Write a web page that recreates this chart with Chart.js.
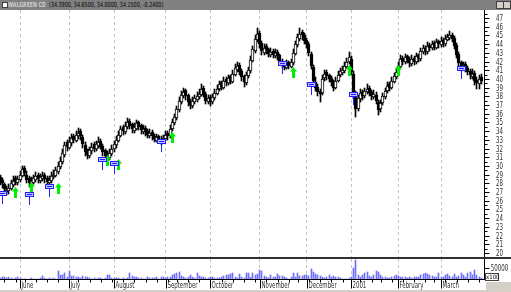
<!DOCTYPE html>
<html><head><meta charset="utf-8">
<script src="https://cdn.jsdelivr.net/npm/chart.js@4.4.1/dist/chart.umd.min.js"></script>
<style>
html,body{margin:0;padding:0;background:#fff;width:511px;height:292px;overflow:hidden;position:relative;font-family:'Liberation Sans Narrow','DejaVu Sans Condensed',sans-serif}
#title{position:absolute;left:0;top:0;width:511px;height:10px;background:#808080;}
#icon{position:absolute;left:2px;top:2px;width:4px;height:4px;background:#fff;border:1px solid #404040;box-sizing:content-box}
#tname{position:absolute;left:8px;top:0px;font-size:7px;line-height:10px;color:#cfcfcf;font-weight:bold;white-space:nowrap;transform-origin:0 50%}
#tvals{position:absolute;left:49px;top:0px;font-size:7px;line-height:10px;color:#000;white-space:nowrap;transform-origin:0 50%}
.btn{position:absolute;top:1px;width:6px;height:6px;background:#d4d0c8;border:1px solid #404040}
#price{position:absolute;left:0;top:10px}
#sep{position:absolute;left:0;top:257px;width:511px;height:2px;background:#303030}
#vol{position:absolute;left:0;top:259px}
#x100{position:absolute;left:485px;top:273px;width:12px;height:6px;border:1px solid #404040;font-size:6px;line-height:6px;text-align:center;color:#000;background:#fff}
#gray1{position:absolute;left:486px;top:282px;width:25px;height:10px;background:#d4d0c8}
#gray2{position:absolute;left:0;top:290px;width:511px;height:2px;background:#d4d0c8}
</style></head><body>
<div id="title"><div id="icon"></div><div id="tname">WALGREEN CO</div><div id="tvals">(34.3900, 34.6500, 34.0000, 34.1500, -0.2400)</div>
<div class="btn" style="left:496px"></div><div class="btn" style="left:503px"></div></div>
<canvas id="price" width="511" height="247"></canvas>
<div id="sep"></div>
<canvas id="vol" width="511" height="33"></canvas>
<div id="gray2"></div><div id="gray1"></div>
<div id="x100">x100</div>
<script>
// ---------- DATA ----------
const startDate = '2000-05-18';
const holidays = ['2000-05-29','2000-07-04','2000-09-04','2000-11-23','2000-12-25','2001-01-01','2001-01-15','2001-02-19'];
const monthLabels = ['June','July','August','September','October','November','December','2001','February','March'];
const priceTickLabels = [20,21,22,23,24,25,26,27,28,29,30,31,32,33,34,35,36,37,38,39,40,41,42,43,44,45,46,47];
const volumeTickLabels = [50000];

const opens = [28.7,28.4,27.9,27.0,27.1,27.4,27.8,28.6,28.0,28.4,28.9,29.8,29.0,28.6,27.8,28.1,28.4,29.0,28.3,28.5,
29.0,28.6,28.0,28.3,28.7,28.9,29.3,29.9,30.4,31.3,32.7,32.1,32.6,33.5,32.9,33.4,34.0,33.3,32.4,31.9,
31.1,31.7,32.5,31.9,32.3,32.9,32.3,31.8,31.4,30.9,31.4,31.9,32.4,32.9,33.5,34.5,33.9,34.5,35.2,34.8,
34.0,34.3,35.0,34.7,33.9,34.4,34.0,33.4,33.9,33.5,32.9,33.4,33.1,32.8,33.1,33.8,33.5,34.2,34.9,35.5,
36.4,37.3,38.0,38.7,38.1,37.5,36.9,37.3,37.6,37.9,38.2,39.0,38.3,37.3,37.9,37.3,37.8,38.3,38.8,39.6,
39.0,40.0,39.5,40.3,39.7,40.5,41.0,41.6,40.9,40.3,39.5,40.3,40.9,42.1,43.2,44.5,45.3,44.1,43.0,43.8,
43.4,42.7,43.2,42.6,43.1,42.7,42.1,41.8,41.3,41.9,41.4,41.8,42.9,43.9,44.6,45.4,45.1,44.5,44.0,42.9,
41.4,39.6,39.1,38.6,38.4,40.1,40.8,40.4,40.1,39.7,39.0,39.8,40.4,40.7,40.9,41.4,41.9,42.3,40.6,38.2,
36.6,37.7,38.5,38.0,38.5,39.0,38.5,37.9,38.2,37.4,36.5,37.2,37.9,38.6,39.4,39.0,39.7,40.2,40.7,41.4,
42.4,41.9,42.6,42.3,41.7,42.4,41.9,42.7,42.3,43.1,43.6,43.1,43.9,43.5,44.1,43.6,44.3,43.9,44.5,44.0,
44.5,44.7,45.1,44.7,43.9,42.9,41.9,41.2,41.7,41.3,40.9,40.2,40.7,39.9,39.4,40.2];
const highs = [29.0,28.6,28.1,27.7,27.9,28.4,28.8,28.9,28.9,29.4,30.0,30.0,29.4,28.8,28.7,29.0,29.3,29.2,29.1,29.3,
29.2,28.9,28.8,29.3,29.5,29.9,30.4,31.0,31.9,32.8,33.0,33.3,33.7,33.7,34.0,34.4,34.2,33.6,32.7,32.0,
32.2,32.6,32.7,32.9,33.3,33.1,32.5,32.0,31.7,31.9,32.4,32.9,33.4,34.0,34.6,34.7,35.0,35.5,35.4,34.9,
34.9,35.3,35.2,34.8,34.7,34.6,34.2,34.2,34.1,33.7,33.7,33.6,33.4,33.6,34.0,34.0,34.7,35.4,36.0,36.9,
37.9,38.6,39.0,38.9,38.3,37.7,37.9,38.2,38.5,38.8,39.4,39.2,38.5,38.2,38.1,38.3,38.8,39.3,39.8,39.8,
40.2,40.2,40.5,40.5,41.0,41.7,42.0,41.8,41.1,40.5,40.8,41.4,42.6,43.8,45.0,45.8,45.5,44.3,44.0,44.0,
43.6,43.5,43.4,43.4,43.3,42.9,42.3,42.0,42.2,42.1,42.3,43.4,44.4,45.2,45.8,45.6,45.3,44.7,44.2,43.1,
41.6,40.2,39.4,38.9,40.4,41.0,41.0,40.6,40.3,39.9,40.2,40.9,41.3,41.5,41.9,42.4,43.1,42.6,40.9,38.6,
38.2,38.8,38.7,39.0,39.4,39.2,38.7,38.7,38.5,37.6,37.6,38.4,39.0,39.6,39.6,40.2,40.7,41.2,41.9,42.7,
42.6,42.9,42.8,42.5,42.7,42.6,43.0,42.9,43.6,43.9,43.8,44.2,44.1,44.4,44.3,44.6,44.5,44.8,44.7,45.0,
45.2,45.5,45.3,44.9,44.1,43.1,42.1,42.0,41.9,41.5,41.1,41.1,40.9,40.2,40.4,40.6];
const lows = [27.8,27.5,27.0,26.7,26.8,27.2,27.6,27.8,27.8,28.2,28.7,28.9,28.1,27.6,27.6,27.9,28.2,28.1,28.1,28.3,
28.1,27.8,27.8,28.1,28.5,28.7,29.1,29.7,30.2,31.0,31.7,31.9,32.3,32.6,32.7,33.1,33.0,32.1,31.2,30.8,
30.9,31.4,31.6,31.7,32.1,31.9,31.2,30.8,30.5,30.7,31.2,31.6,32.1,32.7,33.3,33.6,33.7,34.2,34.2,33.8,
33.8,34.1,34.1,33.7,33.7,33.5,33.2,33.2,33.0,32.7,32.7,32.6,32.4,32.6,32.9,33.0,33.2,34.0,34.7,35.3,
36.2,37.1,37.8,37.6,36.9,36.5,36.7,37.1,37.4,37.7,38.0,37.9,37.1,37.1,36.9,37.1,37.6,38.1,38.6,38.7,
38.8,39.2,39.3,39.4,39.5,40.3,40.8,40.4,39.8,39.1,39.3,40.1,40.7,41.9,43.0,44.2,43.6,42.7,42.8,42.9,
42.5,42.5,42.4,42.4,42.2,41.6,41.3,41.0,41.1,41.1,41.2,41.6,42.7,43.7,44.4,44.5,44.0,43.6,42.6,41.1,
39.4,38.6,38.0,37.3,38.2,39.8,39.9,39.6,39.2,38.6,38.8,39.6,40.2,40.5,40.7,41.2,41.7,40.4,37.7,35.6,
36.3,37.4,37.6,37.8,38.3,38.0,37.6,37.7,37.1,35.9,36.2,37.0,37.7,38.4,38.6,38.8,39.5,40.0,40.5,41.2,
41.6,41.7,41.8,41.4,41.5,41.6,41.7,42.0,42.1,42.9,42.8,42.9,43.2,43.3,43.3,43.4,43.6,43.7,43.7,43.8,
44.3,44.5,44.2,43.4,42.4,41.4,40.9,41.0,40.8,40.4,40.0,40.0,39.3,38.9,38.8,39.4];
const closes = [28.2,28.0,27.4,27.2,27.5,28.0,28.3,28.2,28.5,29.0,29.6,29.2,28.4,28.0,28.3,28.6,28.8,28.5,28.7,28.8,
28.5,28.2,28.4,28.9,29.0,29.5,30.0,30.6,31.5,32.4,32.2,32.8,33.2,33.0,33.6,33.8,33.4,32.5,31.6,31.3,
31.8,32.2,32.0,32.5,32.8,32.2,31.6,31.2,31.0,31.5,32.0,32.5,33.0,33.6,34.2,34.0,34.6,35.0,34.6,34.2,
34.5,34.9,34.5,34.1,34.3,33.9,33.6,33.8,33.4,33.1,33.3,33.0,32.9,33.2,33.6,33.4,34.3,35.0,35.6,36.5,
37.5,38.2,38.5,38.0,37.3,37.0,37.5,37.8,38.0,38.3,38.9,38.2,37.5,37.8,37.4,37.9,38.4,38.9,39.4,39.1,
39.8,39.6,40.1,39.8,40.6,41.2,41.5,40.8,40.2,39.6,40.4,41.0,42.2,43.4,44.6,45.2,44.0,43.2,43.6,43.3,
42.9,43.1,42.8,43.0,42.6,42.0,41.7,41.4,41.8,41.5,41.9,43.0,44.0,44.8,45.2,45.0,44.4,44.0,43.0,41.5,
39.8,39.0,38.5,38.3,40.0,40.6,40.3,40.0,39.6,39.0,39.8,40.5,40.9,41.0,41.5,42.0,42.5,40.8,38.0,36.5,
37.8,38.4,38.0,38.6,38.9,38.4,38.0,38.3,37.5,36.4,37.2,38.0,38.6,39.2,39.0,39.8,40.3,40.8,41.5,42.3,
42.0,42.5,42.2,41.8,42.3,42.0,42.6,42.4,43.2,43.5,43.2,43.8,43.6,44.0,43.7,44.2,44.0,44.4,44.1,44.6,
44.8,45.0,44.6,43.8,42.8,41.8,41.3,41.6,41.2,40.8,40.4,40.6,39.8,39.5,40.0,39.8];
const volumes = [8000,14000,11000,7000,11000,8000,6000,9000,14000,7000,5000,4000,6000,3000,8000,5000,4000,6000,9000,17000,
8000,6000,9000,5000,7000,6000,39000,21000,21000,28000,14000,39000,17000,17000,14000,11000,8000,17000,11000,11000,
8000,6000,9000,5000,7000,10000,6000,8000,21000,21000,10000,8000,7000,9000,6000,8000,6000,7000,31000,17000,
14000,11000,10000,7000,5000,6000,11000,8000,7000,9000,11000,6000,11000,11000,8000,11000,14000,21000,25000,28000,
35000,17000,11000,10000,14000,21000,14000,9000,31000,17000,11000,14000,10000,8000,14000,11000,8000,10000,8000,11000,
17000,21000,21000,25000,28000,14000,10000,25000,14000,10000,28000,31000,14000,31000,21000,25000,42000,39000,17000,11000,
8000,21000,14000,11000,25000,17000,17000,11000,8000,6000,14000,31000,11000,28000,17000,17000,21000,21000,17000,45000,
35000,25000,21000,17000,14000,10000,14000,21000,11000,17000,14000,14000,7000,5000,4000,4000,7000,14000,49000,83000,
21000,14000,21000,28000,35000,17000,14000,21000,39000,35000,21000,14000,11000,8000,7000,11000,17000,21000,17000,14000,
11000,11000,8000,11000,7000,11000,11000,11000,21000,25000,28000,25000,21000,17000,14000,14000,31000,14000,11000,21000,
25000,17000,11000,25000,14000,17000,28000,21000,14000,31000,35000,21000,42000,21000,14000,10000];
// expert signals: bar index and price level of the marker
const buySignals = [{i:7,p:27.0},{i:14,p:27.6},{i:26,p:27.5},{i:48,p:30.7},{i:53,p:30.2},{i:77,p:33.3},{i:131,p:40.8},{i:156,p:41.0},{i:178,p:41.0}];
const flagSignals = [{i:1,p:26.4},{i:13,p:26.3},{i:22,p:27.2},{i:46,p:30.3},{i:51,p:29.9},{i:72,p:32.4},{i:126,p:41.4},{i:139,p:39.0},{i:158,p:37.8},{i:206,p:40.8}];

// ---------- derived categories ----------
function tradingDays(start, n, hol){
  const out=[]; const d=new Date(start+'T00:00:00Z');
  while(out.length<n){ const w=d.getUTCDay(); const s=d.toISOString().slice(0,10);
    if(w!==0&&w!==6&&!hol.includes(s)) out.push(s); d.setUTCDate(d.getUTCDate()+1); }
  return out;
}
const dates = tradingDays(startDate, closes.length, holidays);
const monthStarts=[], weekStarts=[];
dates.forEach((s,i)=>{ if(i===0) return;
  if(s.slice(5,7)!==dates[i-1].slice(5,7)) monthStarts.push(i);
  const w=new Date(s+'T00:00:00Z').getUTCDay(), pw=new Date(dates[i-1]+'T00:00:00Z').getUTCDay();
  if(w<pw) weekStarts.push(i);
});
const idx = closes.map((_,i)=>i);
const X_MIN = 0, X_MAX = 216.2;
const FONT = "'Liberation Sans Narrow','DejaVu Sans Condensed',sans-serif";
const LABEL_X = 499.5;

// ---------- marker images ----------
function makeFlag(){ const c=document.createElement('canvas'); c.width=9; c.height=13; const g=c.getContext('2d');
  g.fillStyle='#2020ff'; g.fillRect(0,0,9,5); g.fillStyle='#c0c0ff'; g.fillRect(1,1,7,3);
  g.fillStyle='#2020ff'; g.fillRect(2,2,5,1); g.fillRect(4,5,1,8); return c; }
function makeArrow(){ const c=document.createElement('canvas'); c.width=7; c.height=11; const g=c.getContext('2d');
  g.fillStyle='#00ee00'; g.beginPath(); g.moveTo(3.5,0); g.lineTo(7,4.5); g.lineTo(0,4.5); g.closePath(); g.fill();
  g.fillRect(2,4,3,7); return c; }
const flagImg = makeFlag(), arrowImg = makeArrow();

// ---------- crisp pixels: snap the library-computed element geometry to the pixel grid ----------
const pixelSnap = { id:'pixelSnap', beforeDatasetsDraw(chart){
  chart.data.datasets.forEach((ds,di)=>{
    const meta=chart.getDatasetMeta(di);
    meta.data.forEach(el=>{
      if(meta.type==='bar'){
        el.x = Math.floor(el.x)+0.5;
        el.y = Math.round(el.y); el.base = Math.round(el.base);
      } else { el.x = Math.floor(el.x)+0.5; el.y = Math.round(el.y)+0.5; }
    });
  });
} };

// ---------- text helper (narrow bitmap-like axis font) ----------
function narrowText(ctx, text, x, y, k, align){
  ctx.save(); ctx.translate(x, y); ctx.scale(k, 1); ctx.textAlign=align; ctx.fillText(text, 0, 0); ctx.restore();
}

// ---------- axis plugins ----------
function drawRightAxis(chart, minor){
  const ctx=chart.ctx, ys=chart.scales.y, a=chart.chartArea;
  ctx.save(); ctx.strokeStyle='#000'; ctx.lineWidth=1; ctx.beginPath();
  const xr=Math.round(a.right)+0.5;
  ctx.moveTo(xr,a.top); ctx.lineTo(xr,a.bottom);
  ys.ticks.forEach(t=>{
    const y=Math.round(ys.getPixelForValue(t.value))+0.5; ctx.moveTo(xr,y); ctx.lineTo(xr+5,y);
    if(minor){ const y2=Math.round(ys.getPixelForValue(t.value+minor))+0.5; ctx.moveTo(xr,y2); ctx.lineTo(xr+3,y2); }
  });
  ctx.stroke();
  ctx.fillStyle='#303030'; ctx.font='8px '+FONT; ctx.textBaseline='middle';
  ys.ticks.forEach(t=>{
    const s=String(t.value), w=ctx.measureText(s).width, k=Math.min(1,(s.length*3.5)/w);
    narrowText(ctx, s, LABEL_X, Math.round(ys.getPixelForValue(t.value))+0.5, k, 'center');
  });
  ctx.restore();
}
const priceAxis = { id:'priceAxis', afterDraw(chart){ drawRightAxis(chart, 0.5); } };
const volAxis = { id:'volAxis', afterDraw(chart){
  drawRightAxis(chart, 0);
  const ctx=chart.ctx, xs=chart.scales.x, a=chart.chartArea;
  ctx.save(); ctx.strokeStyle='#000'; ctx.lineWidth=1; ctx.beginPath();
  const yb=Math.round(a.bottom)-0.5;
  ctx.moveTo(0,yb); ctx.lineTo(a.right,yb);
  weekStarts.forEach(i=>{ const x=Math.round(xs.getPixelForValue(i))+0.5; ctx.moveTo(x,yb); ctx.lineTo(x,yb+3); });
  monthStarts.forEach(i=>{ const x=Math.round(xs.getPixelForValue(i))+0.5; ctx.moveTo(x,yb); ctx.lineTo(x,yb+9); });
  ctx.stroke();
  ctx.fillStyle='#303030'; ctx.font='8px '+FONT; ctx.textBaseline='alphabetic';
  const k=Math.min(1, 30/ctx.measureText('September').width);
  xs.ticks.forEach((t,j)=>{ const x=Math.round(xs.getPixelForValue(t.value))+1.5;
    narrowText(ctx, monthLabels[j], x, yb+8.5, k, 'left'); });
  ctx.restore(); } };

const common = { responsive:false, animation:false, events:[], layout:{padding:0, autoPadding:false},
  plugins:{legend:{display:false}, tooltip:{enabled:false}} };

new Chart(document.getElementById('price'), {
  type:'bar',
  data:{ datasets:[
    { type:'scatter', data: flagSignals.map(s=>({x:s.i,y:s.p})), pointStyle:flagImg, pointRadius:5, order:0 },
    { type:'scatter', data: buySignals.map(s=>({x:s.i,y:s.p})), pointStyle:arrowImg, pointRadius:5, order:0 },
    { data: idx.map(i=>({x:i, y:[Math.min(opens[i],closes[i]), Math.max(opens[i],closes[i])]})),
      backgroundColor: idx.map(i=> closes[i]>=opens[i] ? '#ffffff' : '#000000'),
      borderColor:'#000', borderWidth:1, borderSkipped:false, barThickness:3, grouped:false, order:1 },
    { data: idx.map(i=>({x:i, y:[lows[i], highs[i]]})), backgroundColor:'#000', barThickness:1, grouped:false, order:2 }
  ]},
  options:{ ...common,
    scales:{
      x:{ type:'linear', min:X_MIN, max:X_MAX, offset:false,
        afterBuildTicks:s=>{ s.ticks = monthStarts.map(v=>({value:v})); },
        afterFit:s=>{ s.height=0; },
        ticks:{display:false}, grid:{color:'#c4c4c4', drawTicks:false, offset:false}, border:{display:false, dash:[3,3]} },
      y:{ position:'right', min:19.541, max:47.919,
        afterBuildTicks:s=>{ s.ticks = priceTickLabels.map(v=>({value:v})); },
        afterFit:s=>{ s.width=27; },
        grid:{display:false, drawTicks:false}, border:{display:false},
        ticks:{ display:false } }
    } },
  plugins:[pixelSnap, priceAxis]
});

new Chart(document.getElementById('vol'), {
  type:'bar',
  data:{ datasets:[
    { data: idx.map(i=>({x:i, y:volumes[i]})), backgroundColor:'#6e6eff', barThickness:1, grouped:false }
  ]},
  options:{ ...common,
    scales:{
      x:{ type:'linear', min:X_MIN, max:X_MAX, offset:false,
        afterBuildTicks:s=>{ s.ticks = monthStarts.map(v=>({value:v})); },
        afterFit:s=>{ s.height=12; },
        ticks:{ display:false },
        grid:{color:'#c4c4c4', drawTicks:false, offset:false}, border:{display:false, dash:[3,3]} },
      y:{ position:'right', min:0, max:87500,
        afterBuildTicks:s=>{ s.ticks = volumeTickLabels.map(v=>({value:v})); },
        afterFit:s=>{ s.width=27; },
        grid:{display:false, drawTicks:false}, border:{display:false},
        ticks:{ display:false } }
    } },
  plugins:[pixelSnap, volAxis]
});

// title text fitted to the reference widths
function fitText(id, w){ const el=document.getElementById(id); const r=el.scrollWidth||el.offsetWidth; if(r) el.style.transform='scaleX('+(w/r)+')'; }
fitText('tname', 38); fitText('tvals', 114);
</script>
</body></html>
